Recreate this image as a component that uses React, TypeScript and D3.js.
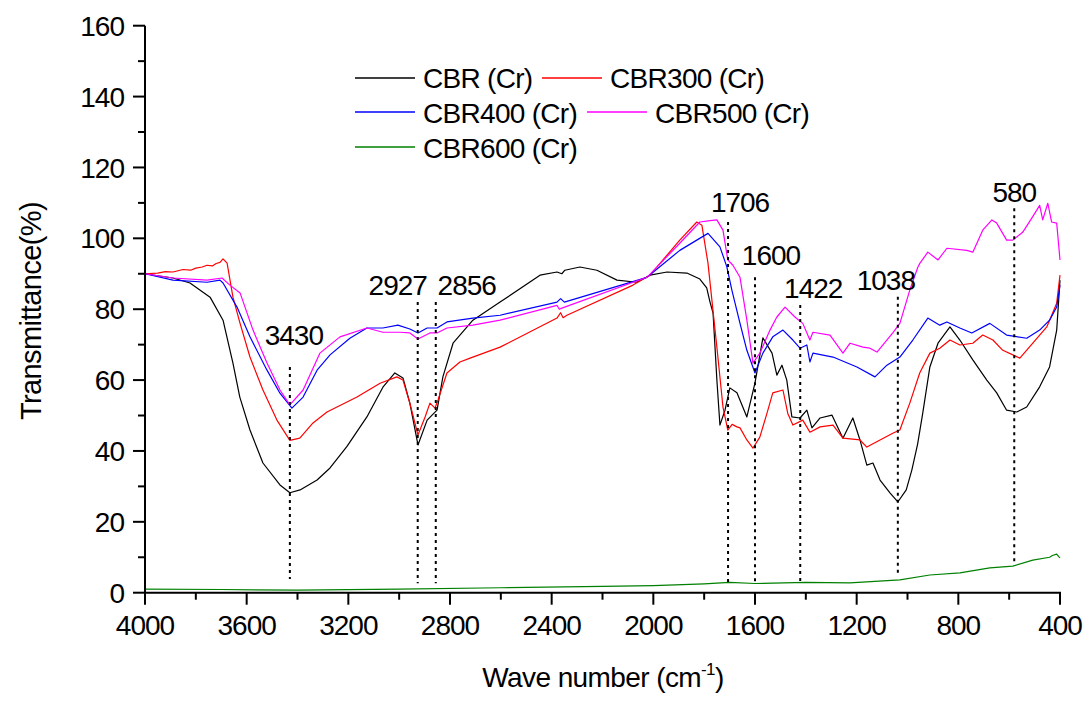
import React from "react";
import * as d3 from "d3";

type Pt = [number, number];

const seriesNames = ["CBR (Cr)", "CBR300 (Cr)", "CBR400 (Cr)", "CBR500 (Cr)", "CBR600 (Cr)"];
const seriesColors = ["#000000", "#ff0000", "#0000ff", "#ff00ff", "#008000"];

const cbr: Pt[] = [
  [4000, 90], [3890, 88.8], [3823, 87.4], [3744, 83.4], [3693, 76.9], [3654, 64.8], [3627, 55.2],
  [3587, 45.9], [3536, 36.6], [3469, 30.4], [3430, 28.2], [3390, 29], [3323, 31.8], [3272, 35.2],
  [3206, 41.2], [3127, 49.6], [3064, 58], [3017, 62], [2985, 60.6], [2958, 53.5], [2926, 41.7],
  [2890, 48.7], [2851, 51.5], [2828, 60.9], [2788, 70.4], [2710, 76.9], [2603, 82], [2446, 89.6],
  [2379, 90.5], [2360, 90], [2348, 91], [2289, 91.9], [2222, 91], [2143, 88.2], [2065, 87.6],
  [2013, 89.6], [1946, 90.5], [1868, 90.2], [1817, 88.5], [1790, 86], [1777, 82], [1765, 78.9],
  [1750, 60], [1738, 47.3], [1718, 51.5], [1699, 57.8], [1671, 56.4], [1632, 49.6], [1600, 59.2],
  [1569, 71.9], [1533, 67.6], [1514, 61.4], [1494, 64.2], [1475, 60], [1455, 49.6], [1423, 49.3],
  [1396, 51.5], [1376, 46.5], [1344, 49.3], [1297, 50.1], [1254, 43.6], [1215, 49.3], [1187, 43.1],
  [1160, 36], [1136, 36.6], [1108, 31.8], [1069, 28.2], [1038, 25.6], [1005, 29], [983, 34.6],
  [960, 42], [940, 50.7], [912, 63.7], [880, 70.4], [833, 75], [794, 71.3], [743, 65.7],
  [688, 60], [649, 56.4], [610, 51.5], [570, 51], [531, 52.4], [480, 58.1], [441, 63.7],
  [413, 74.1], [400, 88.2],
];

const cbr300: Pt[] = [
  [4000, 90], [3950, 90.2], [3920, 90.6], [3890, 90.5], [3850, 91.2], [3820, 91], [3800, 91.6],
  [3775, 91.9], [3756, 92.4], [3735, 92.2], [3720, 92.9], [3705, 93.2], [3693, 94.2], [3677, 93],
  [3654, 83.4], [3626, 76], [3587, 66.5], [3536, 57.2], [3481, 48.7], [3430, 43], [3391, 43.6],
  [3339, 47.9], [3284, 51], [3166, 55.2], [3075, 59.1], [3009, 60.9], [2985, 60], [2958, 53.5],
  [2926, 44.5], [2898, 49.6], [2879, 53.5], [2859, 52.1], [2847, 54.4], [2812, 62], [2761, 65.1],
  [2721, 66.2], [2603, 69.3], [2379, 77.5], [2365, 79], [2355, 77.6], [2340, 78.3], [2080, 86.8],
  [2013, 89.6], [1896, 99.5], [1829, 104.6], [1809, 103.7], [1785, 93], [1750, 69.3], [1726, 52.4],
  [1707, 45.9], [1690, 47.5], [1671, 46.8], [1659, 46.5], [1632, 43.1], [1608, 40.8], [1581, 43.9],
  [1553, 50.6], [1530, 56.4], [1490, 57.2], [1471, 50.6], [1451, 47.3], [1412, 48.7], [1384, 45.3],
  [1344, 46.8], [1293, 47.3], [1254, 43.6], [1187, 43.1], [1160, 41.1], [1108, 43.1], [1058, 45],
  [1030, 45.9], [991, 53.5], [952, 62], [912, 67.6], [873, 69], [833, 71.3], [794, 69.9],
  [743, 70.4], [704, 72.7], [664, 71.3], [625, 68.4], [558, 66.2], [507, 70.4], [452, 75],
  [413, 81.7], [400, 89.6],
];

const cbr400: Pt[] = [
  [4000, 90], [3890, 88.2], [3756, 87.6], [3705, 88.2], [3693, 87.4], [3638, 80.6], [3587, 72.2],
  [3520, 62.8], [3469, 56.3], [3422, 52.1], [3378, 55.2], [3323, 62.8], [3272, 67.1], [3194, 71.8],
  [3127, 74.7], [3064, 74.7], [3005, 75.5], [2958, 74.4], [2926, 73.3], [2890, 74.7], [2851, 74.7],
  [2812, 76.4], [2710, 77.5], [2603, 78.3], [2379, 82], [2365, 83], [2350, 82], [2025, 89],
  [1896, 96.6], [1785, 101.4], [1738, 97.6], [1711, 92], [1691, 85.4], [1659, 76], [1632, 68.4],
  [1600, 62], [1569, 67.6], [1530, 72.2], [1490, 74.1], [1451, 71.3], [1423, 69], [1396, 69.9],
  [1384, 65.1], [1372, 67.6], [1293, 66.5], [1199, 63.7], [1128, 60.9], [1081, 64.2], [1030, 66.5],
  [979, 71.3], [920, 77.5], [873, 75.5], [845, 76.4], [794, 74.7], [747, 73.3], [676, 76],
  [610, 72.7], [531, 71.8], [480, 74.1], [441, 76.9], [413, 80.6], [400, 86.8],
];

const cbr500: Pt[] = [
  [4000, 90], [3890, 88.8], [3756, 88.2], [3697, 88.8], [3666, 86.8], [3626, 84.6], [3575, 74.1],
  [3520, 64.8], [3469, 57.2], [3430, 53], [3378, 57.2], [3312, 67.6], [3233, 72.2], [3127, 74.7],
  [3064, 73.5], [2997, 73.5], [2958, 73.3], [2926, 71.6], [2879, 73.3], [2851, 73.3], [2812, 74.7],
  [2710, 75.5], [2603, 76.9], [2379, 81.1], [2370, 80], [2360, 80.3], [2025, 89], [1896, 98.6],
  [1817, 104.6], [1777, 105], [1750, 105.2], [1726, 102.3], [1707, 93.9], [1687, 92.4], [1659, 89],
  [1632, 76.9], [1608, 64.8], [1581, 67.6], [1541, 74.1], [1514, 77.8], [1482, 80.6], [1443, 77.8],
  [1412, 76], [1384, 71.3], [1372, 73.5], [1305, 72.7], [1254, 67.6], [1226, 70.4], [1175, 69.3],
  [1148, 69], [1120, 67.9], [1058, 73.3], [1030, 76], [991, 85.4], [959, 91.9], [951, 93],
  [920, 96.1], [880, 93.9], [845, 97.2], [767, 96.6], [743, 96.1], [704, 102.3], [668, 105.2],
  [649, 104.3], [610, 99.5], [586, 99.5], [547, 101.7], [511, 105.7], [480, 109.3], [468, 105.2],
  [448, 109.9], [433, 104.6], [413, 104.3], [400, 93.9],
];

const cbr600: Pt[] = [
  [4000, 1], [3700, 0.9], [3400, 0.7], [3000, 1], [2600, 1.4], [2200, 1.8], [2000, 2],
  [1800, 2.5], [1700, 2.9], [1600, 2.6], [1400, 2.9], [1227, 2.8], [1030, 3.6], [912, 5],
  [794, 5.6], [676, 7], [586, 7.5], [507, 9.2], [441, 10], [430, 10.5], [413, 10.9], [405, 10.2],
  [400, 9.8],
];

const seriesData: Pt[][] = [cbr, cbr300, cbr400, cbr500, cbr600];

const xTicks = [4000, 3600, 3200, 2800, 2400, 2000, 1600, 1200, 800, 400];
const yTicks = [0, 20, 40, 60, 80, 100, 120, 140, 160];

// annotation peaks: wavenumber, top value, bottom value
const peakWaves = [3430, 2927, 2856, 1706, 1600, 1422, 1038, 580];
const peakTop = [63.7, 82, 82, 104.6, 89, 81.2, 83.5, 108.5];
const peakBottom = [3.9, 2.7, 2.7, 2.7, 2.7, 2.7, 5, 7.8];
const peakLabels = ["3430", "2927", "2856", "1706", "1600", "1422", "1038", "580"];

// layout
const W = 1091;
const H = 701;
const labelDx = [4, -20, 31, 12, 16, 13, -12, 0];
const labelDy = [-22, -7, -7, -10, -12, -7, -7, -6];
const FONT = "'Liberation Sans', Arial, Helvetica, sans-serif";

export default function App() {
  const x = d3.scaleLinear().domain([4000, 400]).range([145, 1060]);
  const y = d3.scaleLinear().domain([0, 160]).range([592.7, 25.7]);
  const line = d3
    .line<Pt>()
    .x((d) => x(d[0]))
    .y((d) => y(d[1]));

  const xMinor = d3.range(4000, 399, -200).filter((v) => !xTicks.includes(v));
  const yMinor = d3.range(10, 160, 20);

  const legendRows = [
    { i: 0, lx: 355, ly: 78, tx: 423, ty: 88 },
    { i: 1, lx: 542, ly: 78, tx: 610, ty: 88 },
    { i: 2, lx: 355, ly: 112, tx: 423, ty: 123 },
    { i: 3, lx: 587, ly: 112, tx: 655, ty: 123 },
    { i: 4, lx: 355, ly: 147, tx: 423, ty: 158 },
  ];

  const x0 = x(4000);
  const x1 = x(400);
  const yb = y(0);
  const yt = y(160);

  return (
    <svg
      width={W}
      height={H}
      style={{ position: "absolute", left: 0, top: 0, background: "#fff" }}
      fontFamily={FONT}
    >
      <rect x={0} y={0} width={W} height={H} fill="#fff" />
      {/* series */}
      {seriesData.map((d, i) => (
        <path key={i} d={line(d) || ""} fill="none" stroke={seriesColors[i]} strokeWidth={1.2} strokeLinejoin="round" />
      ))}

      {/* peak annotations */}
      {peakWaves.map((w, i) => (
        <g key={"pk" + i}>
          <line
            x1={x(w)}
            x2={x(w)}
            y1={y(peakTop[i])}
            y2={y(peakBottom[i])}
            stroke="#000"
            strokeWidth={2}
            strokeDasharray="3,4"
          />
          <text
            x={x(w) + labelDx[i]}
            y={y(peakTop[i]) + labelDy[i]}
            textAnchor="middle"
            fontSize={28}
            letterSpacing={-1}
            fill="#000"
          >
            {peakLabels[i]}
          </text>
        </g>
      ))}

      {/* axes */}
      <line x1={x0} x2={x0} y1={yt} y2={yb + 1} stroke="#000" strokeWidth={2} />
      <line x1={x0 - 1} x2={x1 + 1} y1={yb} y2={yb} stroke="#000" strokeWidth={2} />
      {yTicks.map((t) => (
        <g key={"yt" + t}>
          <line x1={x0 - 12} x2={x0} y1={y(t)} y2={y(t)} stroke="#000" strokeWidth={2} />
          <text x={x0 - 21} y={y(t)} dy="0.36em" textAnchor="end" fontSize={28} letterSpacing={-1}>
            {t}
          </text>
        </g>
      ))}
      {yMinor.map((t) => (
        <line key={"ym" + t} x1={x0 - 7} x2={x0} y1={y(t)} y2={y(t)} stroke="#000" strokeWidth={2} />
      ))}
      {xTicks.map((t) => (
        <g key={"xt" + t}>
          <line x1={x(t)} x2={x(t)} y1={yb} y2={yb + 12} stroke="#000" strokeWidth={2} />
          <text x={x(t)} y={yb + 42} textAnchor="middle" fontSize={28} letterSpacing={-1}>
            {t}
          </text>
        </g>
      ))}
      {xMinor.map((t) => (
        <line key={"xm" + t} x1={x(t)} x2={x(t)} y1={yb} y2={yb + 7} stroke="#000" strokeWidth={2} />
      ))}

      {/* axis titles */}
      <text
        transform="translate(41,311) rotate(-90)"
        textAnchor="middle"
        fontSize={29}
        letterSpacing={-0.6}
      >
        Transmittance(%)
      </text>
      <text x={603} y={687} textAnchor="middle" fontSize={28} letterSpacing={-0.6}>
        Wave number (cm
        <tspan fontSize={17} dy={-12}>-1</tspan>
        <tspan dy={12}>)</tspan>
      </text>

      {/* legend */}
      {legendRows.map((r) => (
        <g key={"lg" + r.i}>
          <line x1={r.lx} x2={r.lx + 60} y1={r.ly} y2={r.ly} stroke={seriesColors[r.i]} strokeWidth={1.5} />
          <text x={r.tx} y={r.ty} fontSize={28} letterSpacing={-0.7}>
            {seriesNames[r.i]}
          </text>
        </g>
      ))}
    </svg>
  );
}
